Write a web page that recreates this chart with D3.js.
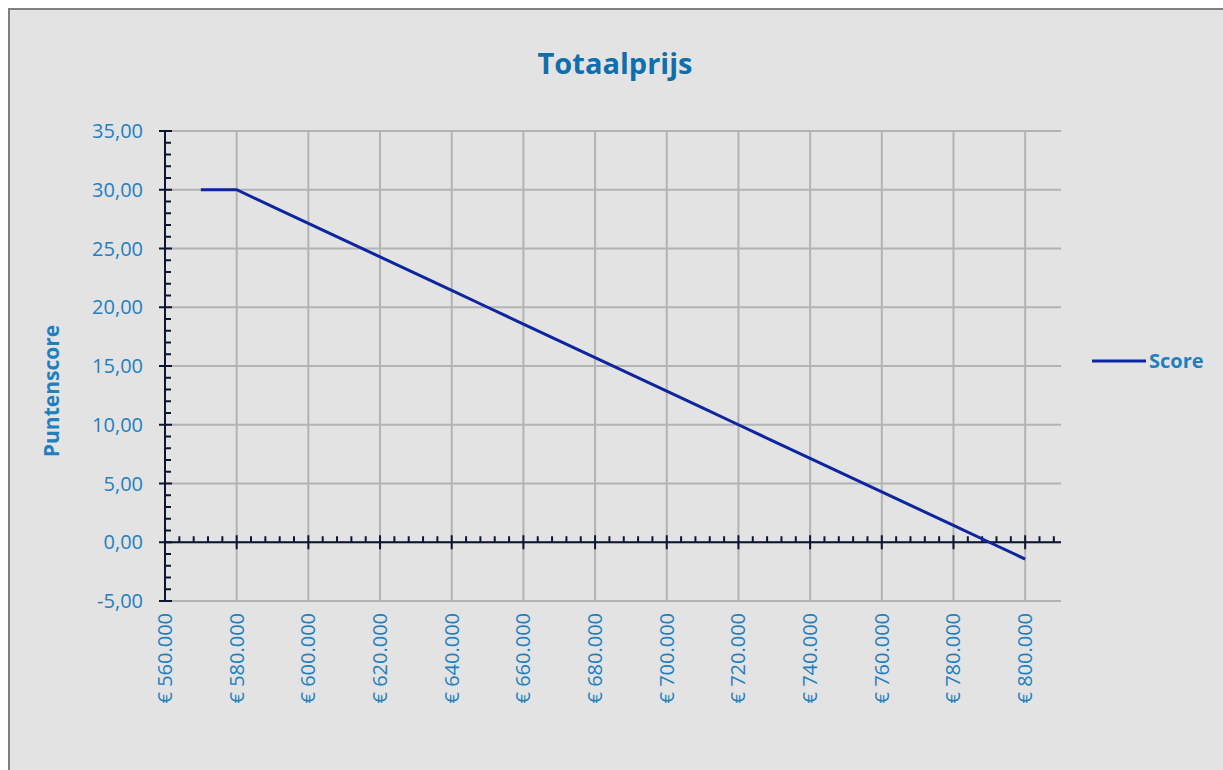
<!DOCTYPE html>
<html>
<head>
<meta charset="utf-8">
<script src="https://cdn.jsdelivr.net/npm/d3@7"></script>
<style>
  body { margin: 0; background: #fff; }
  svg text { font-family: "Open Sans", "Liberation Sans", sans-serif; }
</style>
</head>
<body>
<svg id="canvas" width="1223" height="770"></svg>
<script>
"use strict";

// prices (euro) and score for the Totaalprijs curve
const prices = [570000, 580000, 590000, 600000, 610000, 620000, 630000, 640000,
  650000, 660000, 670000, 680000, 690000, 700000, 710000, 720000, 730000,
  740000, 750000, 760000, 770000, 780000, 790000, 800000];
const scores = [30.0, 30.0, 28.57, 27.14, 25.71, 24.29, 22.86, 21.43, 20.0,
  18.57, 17.14, 15.71, 14.29, 12.86, 11.43, 10.0, 8.57, 7.14, 5.71, 4.29,
  2.86, 1.43, 0.0, -1.43];
const xTicks = [560000, 580000, 600000, 620000, 640000, 660000, 680000,
  700000, 720000, 740000, 760000, 780000, 800000];
const yTicks = [-5, 0, 5, 10, 15, 20, 25, 30, 35];
const seriesName = "Score";

const svg = d3.select("#canvas");
const labelColor = "#1f80bf";

svg.append("rect")
  .attr("x", 9).attr("y", 9)
  .attr("width", 1230).attr("height", 780)
  .attr("fill", "#e3e3e3")
  .attr("stroke", "#7f7f7f")
  .attr("stroke-width", 2);

const x = d3.scaleLinear().domain([560000, 810000]).range([165, 1061]);
const y = d3.scaleLinear().domain([-5, 35]).range([601, 131]);

// grid
svg.append("g")
  .selectAll("line")
  .data(yTicks)
  .join("line")
  .attr("x1", x(560000)).attr("x2", x(810000))
  .attr("y1", (d) => y(d)).attr("y2", (d) => y(d))
  .attr("stroke", "#b3b3b3").attr("stroke-width", 2);

svg.append("g")
  .selectAll("line")
  .data(xTicks)
  .join("line")
  .attr("x1", (d) => x(d)).attr("x2", (d) => x(d))
  .attr("y1", y(35)).attr("y2", y(-5))
  .attr("stroke", "#b3b3b3").attr("stroke-width", 2);

// y axis
const yAxis = svg.append("g").attr("transform", `translate(${x(560000)},0)`);
yAxis.append("line")
  .attr("y1", y(35)).attr("y2", y(-5))
  .attr("stroke", "#0c1633").attr("stroke-width", 2);
yAxis.selectAll(".minor")
  .data(d3.range(-5, 35.01, 1).filter((v) => v % 5 !== 0))
  .join("line")
  .attr("class", "minor")
  .attr("x1", 0).attr("x2", 6)
  .attr("y1", (d) => y(d)).attr("y2", (d) => y(d))
  .attr("stroke", "#0c1633").attr("stroke-width", 2);
yAxis.selectAll(".major")
  .data(yTicks)
  .join("line")
  .attr("class", "major")
  .attr("x1", -6).attr("x2", 7)
  .attr("y1", (d) => y(d)).attr("y2", (d) => y(d))
  .attr("stroke", "#0c1633").attr("stroke-width", 2);
yAxis.selectAll("text")
  .data(yTicks)
  .join("text")
  .attr("x", -22)
  .attr("y", (d) => y(d))
  .attr("dy", "0.35em")
  .attr("text-anchor", "end")
  .attr("fill", labelColor)
  .attr("font-size", 20)
  .text((d) => d3.format(".2f")(d).replace(".", ",").replace("\u2212", "-"));

// x axis at zero
const xAxis = svg.append("g").attr("transform", `translate(0,${y(0)})`);
xAxis.append("line")
  .attr("x1", x(560000)).attr("x2", x(810000))
  .attr("stroke", "#0c1633").attr("stroke-width", 2);
xAxis.selectAll(".minor")
  .data(d3.range(564000, 810000, 4000).filter((v) => v % 20000 !== 0))
  .join("line")
  .attr("class", "minor")
  .attr("x1", (d) => x(d)).attr("x2", (d) => x(d))
  .attr("y1", 0).attr("y2", -6)
  .attr("stroke", "#0c1633").attr("stroke-width", 2);
xAxis.selectAll(".major")
  .data(xTicks)
  .join("line")
  .attr("class", "major")
  .attr("x1", (d) => x(d)).attr("x2", (d) => x(d))
  .attr("y1", -7).attr("y2", 7)
  .attr("stroke", "#0c1633").attr("stroke-width", 2);

svg.append("g")
  .selectAll("text")
  .data(xTicks)
  .join("text")
  .attr("transform", (d) => `translate(${x(d) + 7},${y(-5) + 12}) rotate(-90)`)
  .attr("text-anchor", "end")
  .attr("fill", labelColor)
  .attr("font-size", 20)
  .text((d) => "€ " + d3.format(",")(d).replace(/,/g, "."));

// line
const line = d3.line()
  .x((d, i) => x(prices[i]))
  .y((d) => y(d));

svg.append("path")
  .datum(scores)
  .attr("d", line)
  .attr("fill", "none")
  .attr("stroke", "#0d259f")
  .attr("stroke-width", 3);

// title and axis title
svg.append("text")
  .attr("x", 615).attr("y", 74)
  .attr("text-anchor", "middle")
  .attr("fill", "#0f6fac")
  .attr("font-size", 29)
  .attr("font-weight", "bold")
  .text("Totaalprijs");

svg.append("text")
  .attr("transform", "translate(59,391) rotate(-90)")
  .attr("text-anchor", "middle")
  .attr("fill", labelColor)
  .attr("font-size", 21)
  .attr("font-weight", "bold")
  .text("Puntenscore");

// legend
const legend = svg.append("g").attr("transform", "translate(1092,361)");
legend.append("line")
  .attr("x1", 0).attr("x2", 54)
  .attr("stroke", "#0d259f").attr("stroke-width", 3);
legend.append("text")
  .attr("x", 57).attr("dy", "0.35em")
  .attr("fill", labelColor)
  .attr("font-size", 20)
  .attr("font-weight", "bold")
  .text(seriesName);
</script>
</body>
</html>
